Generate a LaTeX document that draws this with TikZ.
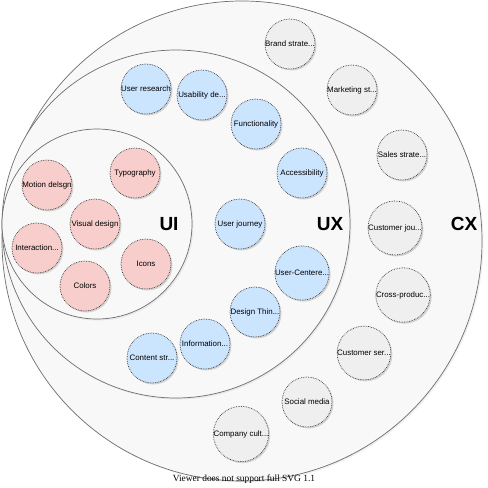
\documentclass[tikz,border=0pt]{standalone}
\usepackage{fontspec}
\setmainfont{Liberation Sans}
\newfontfamily\serifcap{Liberation Serif}
\usetikzlibrary{shadows}
\definecolor{bigfill}{HTML}{F8F8F8}
\definecolor{bigline}{HTML}{6E6E6E}
\definecolor{pinkfill}{HTML}{F8CECC}
\definecolor{bluefill}{HTML}{CCE5FF}
\definecolor{grayfill}{HTML}{EFEFEF}
\definecolor{dotline}{HTML}{333333}
\tikzset{
  bigcirc/.style={draw=bigline, fill=bigfill, line width=0.7pt,
    drop shadow={opacity=0.12, shadow xshift=1.5pt, shadow yshift=-1.5pt}},
  smallcirc/.style={circle, draw=dotline, densely dotted, line width=0.7pt,
    minimum size=50pt, inner sep=0pt, font=\fontsize{7.9}{8.5}\selectfont,
    drop shadow={opacity=0.3, shadow xshift=1.5pt, shadow yshift=-1.5pt}},
  uicirc/.style={smallcirc, fill=pinkfill},
  uxcirc/.style={smallcirc, fill=bluefill},
  cxcirc/.style={smallcirc, fill=grayfill},
  biglabel/.style={font=\fontsize{19}{21}\selectfont\bfseries}
}
\begin{document}
\begin{tikzpicture}[x=1pt,y=-1pt]
\useasboundingbox (0,0) rectangle (488,488);
% big circles
\node[bigcirc, circle, minimum size=480pt, inner sep=0pt] (cx) at (242,241) {};
\node[bigcirc, circle, minimum size=348pt, inner sep=0pt] (ux) at (176,224) {};
\node[bigcirc, circle, minimum size=190pt, inner sep=0pt] (ui) at (97,224) {};
\node[biglabel] (uil) at (169,224) {UI};
\node[biglabel] (uxl) at (330,224) {UX};
\node[biglabel] (cxl) at (464,224) {CX};
% UI
\node[uicirc] (m1) at (47,185) {Motion delsgn};
\node[uicirc] (m2) at (135,173) {Typography};
\node[uicirc] (m3) at (95,224) {Visual design};
\node[uicirc] (m4) at (37,248) {Interaction...};
\node[uicirc] (m5) at (146,264) {Icons};
\node[uicirc] (m6) at (85,286) {Colors};
% UX
\node[uxcirc] (x1) at (146,89) {User research};
\node[uxcirc] (x2) at (202,95) {Usability de...};
\node[uxcirc] (x3) at (256,124) {Functionality};
\node[uxcirc] (x4) at (302,173) {Accessibility};
\node[uxcirc] (x5) at (240,224) {User journey};
\node[uxcirc] (x6) at (302,273) {User-Centere...};
\node[uxcirc] (x7) at (255,312) {Design Thin...};
\node[uxcirc] (x8) at (205,344) {Information...};
\node[uxcirc] (x9) at (152,358) {Content str...};
% CX
\node[cxcirc] (c1) at (290,44) {Brand strate...};
\node[cxcirc] (c2) at (352,90) {Marketing st...};
\node[cxcirc] (c3) at (402,155) {Sales strate...};
\node[cxcirc] (c4) at (395,228) {Customer jou...};
\node[cxcirc] (c5) at (403,295) {Cross-produc...};
\node[cxcirc] (c6) at (364,353) {Customer ser...};
\node[cxcirc] (c7) at (307,402) {Social media};
\node[cxcirc] (c8) at (241,434) {Company cult...};
% footer
\node[font=\serifcap\fontsize{9.4}{11}\selectfont] (foot) at (244,479) {Viewer does not support full SVG 1.1};
\end{tikzpicture}
\end{document}
